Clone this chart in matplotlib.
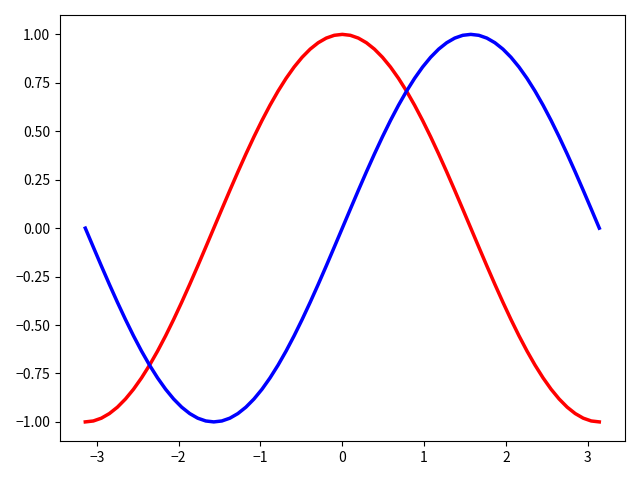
import matplotlib
matplotlib.use('Agg')
import matplotlib.pyplot as plt

plt.rcParams['font.family'] = ['Noto Sans CJK SC', 'DejaVu Sans']
plt.rcParams['axes.unicode_minus'] = True

# sample points (step of pi/32)
x = [-3.1416, -3.0434, -2.9452, -2.8471, -2.7489, -2.6507, -2.5525, -2.4544,
     -2.3562, -2.2580, -2.1598, -2.0617, -1.9635, -1.8653, -1.7671, -1.6690,
     -1.5708, -1.4726, -1.3744, -1.2763, -1.1781, -1.0799, -0.9817, -0.8836,
     -0.7854, -0.6872, -0.5890, -0.4909, -0.3927, -0.2945, -0.1963, -0.0982,
     0.0,
     0.0982, 0.1963, 0.2945, 0.3927, 0.4909, 0.5890, 0.6872, 0.7854,
     0.8836, 0.9817, 1.0799, 1.1781, 1.2763, 1.3744, 1.4726, 1.5708,
     1.6690, 1.7671, 1.8653, 1.9635, 2.0617, 2.1598, 2.2580, 2.3562,
     2.4544, 2.5525, 2.6507, 2.7489, 2.8471, 2.9452, 3.0434, 3.1416]

blue = [0.0, -0.0980, -0.1951, -0.2903, -0.3827, -0.4714, -0.5556, -0.6344,
        -0.7071, -0.7730, -0.8315, -0.8819, -0.9239, -0.9569, -0.9808, -0.9952,
        -1.0, -0.9952, -0.9808, -0.9569, -0.9239, -0.8819, -0.8315, -0.7730,
        -0.7071, -0.6344, -0.5556, -0.4714, -0.3827, -0.2903, -0.1951, -0.0980,
        0.0,
        0.0980, 0.1951, 0.2903, 0.3827, 0.4714, 0.5556, 0.6344, 0.7071,
        0.7730, 0.8315, 0.8819, 0.9239, 0.9569, 0.9808, 0.9952, 1.0,
        0.9952, 0.9808, 0.9569, 0.9239, 0.8819, 0.8315, 0.7730, 0.7071,
        0.6344, 0.5556, 0.4714, 0.3827, 0.2903, 0.1951, 0.0980, 0.0]

red = [-1.0, -0.9952, -0.9808, -0.9569, -0.9239, -0.8819, -0.8315, -0.7730,
       -0.7071, -0.6344, -0.5556, -0.4714, -0.3827, -0.2903, -0.1951, -0.0980,
       0.0, 0.0980, 0.1951, 0.2903, 0.3827, 0.4714, 0.5556, 0.6344,
       0.7071, 0.7730, 0.8315, 0.8819, 0.9239, 0.9569, 0.9808, 0.9952,
       1.0,
       0.9952, 0.9808, 0.9569, 0.9239, 0.8819, 0.8315, 0.7730, 0.7071,
       0.6344, 0.5556, 0.4714, 0.3827, 0.2903, 0.1951, 0.0980, 0.0,
       -0.0980, -0.1951, -0.2903, -0.3827, -0.4714, -0.5556, -0.6344, -0.7071,
       -0.7730, -0.8315, -0.8819, -0.9239, -0.9569, -0.9808, -0.9952, -1.0]

fig, ax = plt.subplots(figsize=(6.4, 4.8), dpi=100)
ax.plot(x, red, color='red', linewidth=2.5)
ax.plot(x, blue, color='blue', linewidth=2.5)

fig.tight_layout()
fig.savefig('out.png')
